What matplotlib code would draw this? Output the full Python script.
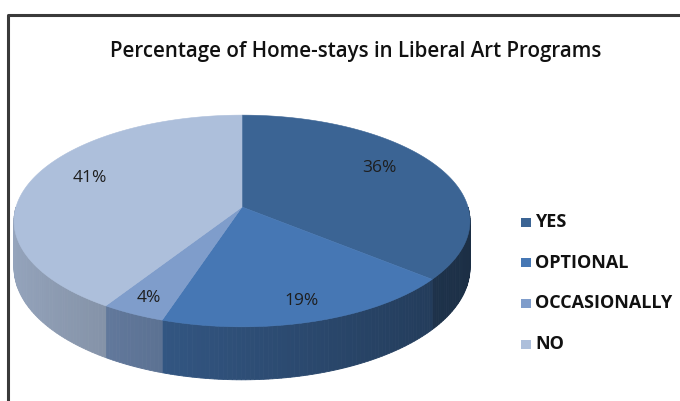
import numpy as np
import matplotlib
matplotlib.use("Agg")
import matplotlib.pyplot as plt
from matplotlib.patches import Polygon, Rectangle
from matplotlib.colors import to_rgb

# ---- data ----
categories = ["YES", "OPTIONAL", "OCCASIONALLY", "NO"]
percent = [36, 19, 4, 41]
title = "Percentage of Home-stays in Liberal Art Programs"

# ---- style ----
top_colors = ["#3b6494", "#4677b4", "#7f9dcb", "#adbfdb"]
lab_r = [0.70, 0.84, 0.87, 0.72]
lab_dy = [-9, 0, 0, -9]

CX, CY = 242, 207      # projected pie centre (px)
A, B = 226, 104        # horizontal / vertical scale
K = 0.132              # perspective
D = 46                 # depth of pie side

fig = plt.figure(figsize=(6.8, 4.01), dpi=100)
ax = fig.add_axes([0, 0, 1, 1])
ax.set_xlim(0, 680)
ax.set_ylim(401, 0)
ax.axis("off")


def proj(theta_deg, r=1.0, h=0.0):
    t = np.radians(theta_deg)
    u = r * np.sin(t)
    w = r * np.cos(t)
    s = 1 + K * w
    return CX + A * u / s, CY - B * w / s + h / s


vals = np.array(percent, dtype=float)
edges = np.concatenate([[0], np.cumsum(vals) / vals.sum() * 360])

# sides (front half only)
for i in range(len(vals)):
    a0, a1 = max(edges[i], 90), min(edges[i + 1], 270)
    if a1 <= a0:
        continue
    steps = np.linspace(a0, a1, max(2, int((a1 - a0)) + 2))
    base = np.array(to_rgb(top_colors[i]))
    for s0, s1 in zip(steps[:-1], steps[1:]):
        xa, ya = proj(s0)
        xb, yb = proj(s1)
        xa2, ya2 = proj(s0, h=D)
        xb2, yb2 = proj(s1, h=D)
        um = np.sin(np.radians((s0 + s1) / 2))
        f = 0.66 - 0.2 * um
        c = np.clip(base * f, 0, 1)
        ax.add_patch(Polygon([[xa, ya], [xb, yb], [xb2, yb2], [xa2, ya2]],
                             closed=True, facecolor=c, edgecolor=c, lw=0.6))

# tops
for i in range(len(vals)):
    th = np.linspace(edges[i], edges[i + 1], 200)
    xs, ys = proj(th)
    pts = np.column_stack([np.r_[CX, xs], np.r_[CY, ys]])
    ax.add_patch(Polygon(pts, closed=True, facecolor=top_colors[i],
                         edgecolor=top_colors[i], lw=0.4))

# labels
for i in range(len(vals)):
    mid = (edges[i] + edges[i + 1]) / 2
    x, y = proj(mid, r=lab_r[i])
    ax.text(x, y + lab_dy[i], f"{percent[i]}%", ha="center", va="center",
            fontsize=12.5, family="Open Sans", color="#1e1e1e")

# title
ax.text(356, 52, title, ha="center", va="center", fontsize=14.8,
        family="Open Sans", fontweight="semibold", color="#111111")

# legend
for i, cat in enumerate(categories):
    y = 222 + i * 40.7
    ax.add_patch(Rectangle((521, y - 4.5), 10, 9, facecolor=top_colors[i],
                           edgecolor="none"))
    ax.text(535, y, cat, ha="left", va="center", fontsize=13,
            family="Open Sans", fontweight="bold", color="#111111")

# frame
ax.plot([7.5, 7.5, 680], [401, 14.5, 14.5], color="#3a3a3a", lw=2.2,
        solid_capstyle="butt", clip_on=False)

fig.savefig("out.png", dpi=100)
